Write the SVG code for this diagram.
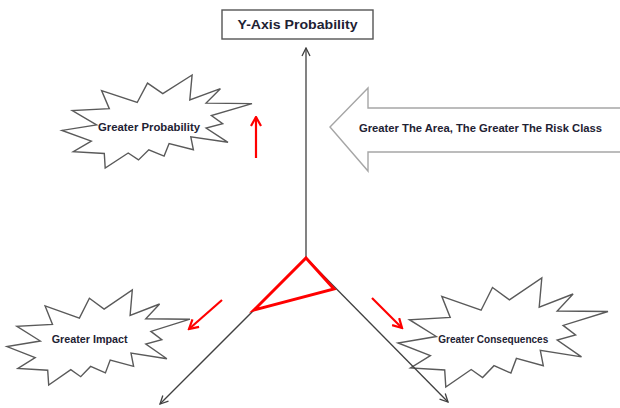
<svg xmlns="http://www.w3.org/2000/svg" width="620" height="408" viewBox="0 0 620 408">
  <style>
    .seal { fill: #ffffff; stroke: #5a5a5a; stroke-width: 1.4; stroke-linejoin: miter; }
    .lbl { font-family: "Liberation Sans", Arial, sans-serif; font-weight: bold; fill: #1e2233; text-anchor: middle; }
    .axis { stroke: #404040; stroke-width: 1.3; fill: none; }
    .red { stroke: #ff0000; stroke-width: 2.2; fill: none; }
  </style>
  <defs>
    <marker id="ah" viewBox="0 0 10 10" refX="9" refY="5" markerWidth="10" markerHeight="10" markerUnits="userSpaceOnUse" orient="auto">
      <path d="M1,1 L9,5 L1,9" fill="none" stroke="#404040" stroke-width="1.3"/>
    </marker>
    <marker id="ahr" viewBox="0 0 12 12" refX="10.5" refY="6" markerWidth="12" markerHeight="12" markerUnits="userSpaceOnUse" orient="auto">
      <path d="M1.5,1 L10.5,6 L1.5,11" fill="none" stroke="#ff0000" stroke-width="2.2"/>
    </marker>
  </defs>
  <rect width="620" height="408" fill="#ffffff"/>

  <g id="risk-class-arrow">
    <polygon points="330,127 368,88 368,108 622,108 622,152 368,152 368,171" fill="#ffffff" stroke="#a6a6a6" stroke-width="1.4"/>
    <text class="lbl" x="480.5" y="132" font-size="11.5" textLength="243" lengthAdjust="spacingAndGlyphs">Greater The Area, The Greater The Risk Class</text>
  </g>

  <g id="y-axis-label">
    <rect x="222" y="10" width="151" height="29" fill="#ffffff" stroke="#555555" stroke-width="1.4"/>
    <text class="lbl" x="297.5" y="29.3" font-size="13" textLength="120" lengthAdjust="spacingAndGlyphs">Y-Axis Probability</text>
  </g>

  <g id="greater-probability">
    <polygon class="seal" points="162.8,93.7 192.1,75 189.8,99.9 220.4,88.7 206.1,103.1 252,103.6 211.4,115.5 222.7,123.6 206.1,128 228,142.3 190.8,136.8 193.4,149.8 169.1,143.6 164.1,156.1 148.8,149.8 138.5,159.9 128.2,153 105.2,168 104.3,153.5 73.3,151.7 91.3,141.2 62,130.4 96.6,124.9 72.3,110.6 109.3,108.7 101.6,90.6 137.2,102.5 147.5,83.1"/>
    <text class="lbl" x="149" y="130.7" font-size="11.5" textLength="102" lengthAdjust="spacingAndGlyphs">Greater Probability</text>
  </g>

  <g id="greater-impact">
    <polygon class="seal" points="104.1,309.1 132.3,290 130.1,315.4 159.6,304 145.8,318.7 190,319.2 150.9,331.4 161.8,339.7 145.8,344.1 166.9,358.8 131,353.1 133.6,366.4 110.2,360.1 105.4,372.9 90.6,366.4 80.7,376.7 70.8,369.7 48.7,385 47.7,370.2 17.9,368.4 35.2,357.6 7,346.6 40.3,341 16.9,326.4 52.5,324.4 45.1,305.9 79.4,318.1 89.4,298.3"/>
    <text class="lbl" x="89.7" y="343.3" font-size="10.5" textLength="76" lengthAdjust="spacingAndGlyphs">Greater Impact</text>
  </g>

  <g id="greater-consequences">
    <polygon class="seal" points="509.4,299.9 541.8,278 539.2,307.2 573.1,294 557.2,311 608,311.5 563.1,325.4 575.6,335 557.2,340.1 581.5,356.9 540.3,350.4 543.3,365.7 516.4,358.4 510.9,373.1 494,365.7 482.6,377.5 471.2,369.5 445.8,387 444.7,370 410.5,367.9 430.4,355.6 398,343 436.3,336.5 409.4,319.7 450.2,317.4 441.8,296.3 481.1,310.2 492.5,287.5"/>
    <text class="lbl" x="493.3" y="342.7" font-size="10.5" textLength="110" lengthAdjust="spacingAndGlyphs">Greater Consequences</text>
  </g>

  <g id="connectors">
    <line class="axis" x1="306" y1="258" x2="306" y2="48" marker-end="url(#ah)"/>
    <line class="axis" x1="306" y1="258" x2="160" y2="404" marker-end="url(#ah)"/>
    <line class="axis" x1="306" y1="258" x2="448" y2="402" marker-end="url(#ah)"/>
    <line class="red" x1="256" y1="158" x2="256" y2="117" marker-end="url(#ahr)"/>
    <line class="red" x1="222" y1="300" x2="189" y2="329" marker-end="url(#ahr)"/>
    <line class="red" x1="372" y1="298" x2="402" y2="328" marker-end="url(#ahr)"/>
  </g>

  <g id="risk-triangle">
    <polygon points="306,258 334,289 254,310" fill="none" stroke="#ff0000" stroke-width="3" stroke-linejoin="miter"/>
  </g>
</svg>
